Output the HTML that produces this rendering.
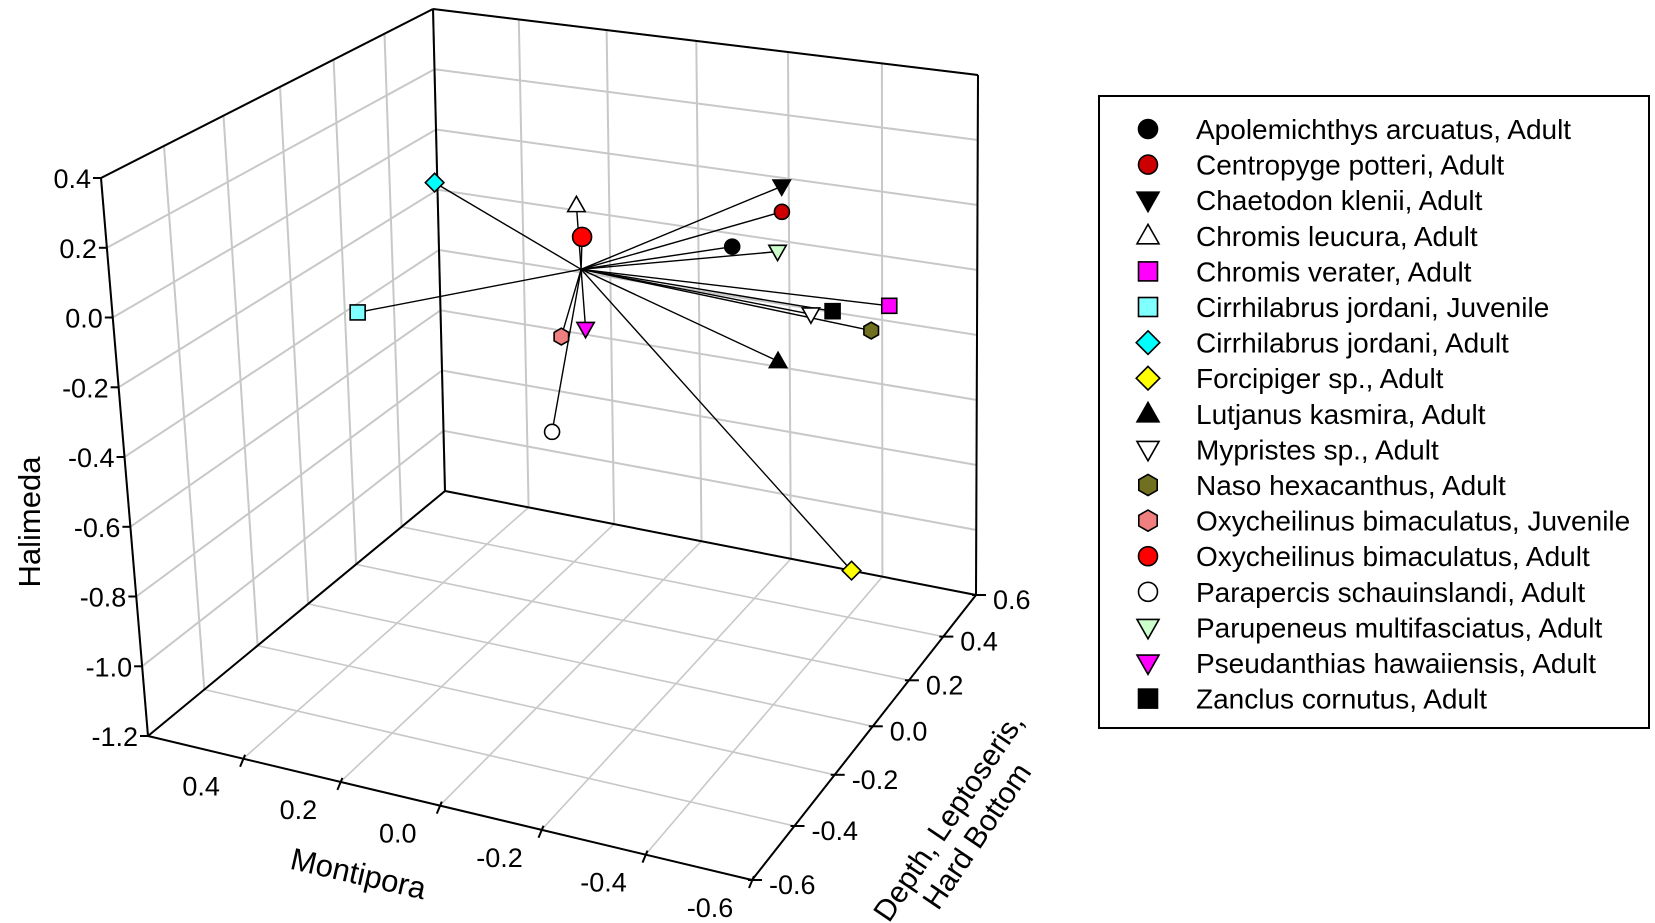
<!DOCTYPE html>
<html><head><meta charset="utf-8">
<style>
html,body{margin:0;padding:0;background:#fff;}
svg{display:block;font-family:"Liberation Sans",Arial,sans-serif;}
</style></head>
<body>
<svg id="chart" width="1655" height="923" viewBox="0 0 1655 923" xmlns="http://www.w3.org/2000/svg">
<g id="grid"></g>
<g id="box"></g>
<g id="axes"></g>
<g id="vectors"></g>
<g id="marks"></g>
<text x="0" y="0" font-size="31" text-anchor="middle" transform="translate(40,522) rotate(-90)">Halimeda</text>
<text x="0" y="0" font-size="31" text-anchor="middle" transform="translate(356,884) rotate(13)">Montipora</text>
<g transform="translate(962,826) rotate(-56)">
<text x="0" y="-6" font-size="30" text-anchor="middle">Depth, Leptoseris,</text>
<text x="0" y="28" font-size="30" text-anchor="middle">Hard Bottom</text>
</g>
<rect x="1099" y="96" width="550" height="632" fill="#fff" stroke="#000" stroke-width="2"/>
<g id="legend"></g>
</svg>
<script>
// ---- data ----
const species = ["Apolemichthys arcuatus, Adult","Centropyge potteri, Adult","Chaetodon klenii, Adult","Chromis leucura, Adult","Chromis verater, Adult","Cirrhilabrus jordani, Juvenile","Cirrhilabrus jordani, Adult","Forcipiger sp., Adult","Lutjanus kasmira, Adult","Mypristes sp., Adult","Naso hexacanthus, Adult","Oxycheilinus bimaculatus, Juvenile","Oxycheilinus bimaculatus, Adult","Parapercis schauinslandi, Adult","Parupeneus multifasciatus, Adult","Pseudanthias hawaiiensis, Adult","Zanclus cornutus, Adult"];
const montipora = [-0.192,-0.251,-0.251,-0.021,-0.452,0.178,0.105,-0.333,-0.245,-0.287,-0.414,-0.002,-0.026,0.016,-0.246,-0.027,-0.313];
const depth     = [0.326,0.438,0.438,-0.006,0.5,-0.483,-0.316,0.6,0.426,0.498,0.5,-0.047,0.004,-0.062,0.426,0.006,0.55];
const halimeda  = [-0.078,-0.014,0.065,0.175,-0.291,0.06,0.365,-1.2,-0.471,-0.354,-0.376,-0.199,0.077,-0.478,-0.132,-0.198,-0.366];
const centroid = [-0.024, 0, -0.018];
const mTicks = [0.4,0.2,0.0,-0.2,-0.4,-0.6];
const dTicks = [-0.6,-0.4,-0.2,0.0,0.2,0.4,0.6];
const hTicks = [0.4,0.2,0.0,-0.2,-0.4,-0.6,-0.8,-1.0,-1.2];
const mGrid = [0.6,0.4,0.2,0,-0.2,-0.4,-0.6];
const dGrid = [-0.6,-0.4,-0.2,0,0.2,0.4,0.6];
const hGrid = [0.4,0.2,0,-0.2,-0.4,-0.6,-0.8,-1.0,-1.2];

// ---- styles (marker shapes per species) ----
const shapes = ["circle","circle","tdown","tup","square","square","diamond","diamond","tup","tdown","hex","hex","circle","circle","tdown","tdown","square"];
const fills  = ["#000","#cc0000","#000","#fff","#ff00ff","#80ffff","#00ffff","#ffff00","#000","#fff","#707020","#f08080","#ff0000","#fff","#ccffcc","#ff00ff","#000"];

// ---- projection (box corners) ----
const C = {LB:[148,736],LT:[101,178],BB:[445,491],BT:[433,9],FB:[752,880],FT:[745,283],RB:[976,595],RT:[978,75]};
const aU=1.07, aV=1.17;
function proj(M,D,H){
  let u=(0.6-M)/1.2, v=(D+0.6)/1.2, w=(H+1.2)/1.6;
  u = u/(aU-(aU-1)*u);
  v = aV*v/(1+(aV-1)*v);
  const b=(p00,p01,p10,p11)=>{
    return [(1-u)*(1-v)*p00[0]+(1-u)*v*p01[0]+u*(1-v)*p10[0]+u*v*p11[0],
            (1-u)*(1-v)*p00[1]+(1-u)*v*p01[1]+u*(1-v)*p10[1]+u*v*p11[1]];
  };
  const bot=b(C.LB,C.BB,C.FB,C.RB), top=b(C.LT,C.BT,C.FT,C.RT);
  return [bot[0]*(1-w)+top[0]*w, bot[1]*(1-w)+top[1]*w];
}
const NS="http://www.w3.org/2000/svg";
function mk(tag,attrs,parent){const e=document.createElementNS(NS,tag);for(const k in attrs)e.setAttribute(k,attrs[k]);parent.appendChild(e);return e;}
function line(p,q,stroke,sw,parent){return mk("line",{x1:p[0].toFixed(1),y1:p[1].toFixed(1),x2:q[0].toFixed(1),y2:q[1].toFixed(1),stroke:stroke,"stroke-width":sw},parent);}

const grid=document.getElementById("grid"), box=document.getElementById("box"), axes=document.getElementById("axes");
const GC="#c8c8c8";
hGrid.forEach(h=>{const el=line(proj(0.6,-0.6,h),proj(0.6,0.6,h),GC,2,grid);

});
dGrid.forEach(d=>{const el=line(proj(0.6,d,-1.2),proj(0.6,d,0.4),GC,2,grid);

});
hGrid.forEach(h=>{const el=line(proj(0.6,0.6,h),proj(-0.6,0.6,h),GC,2,grid);

});
mGrid.forEach(m=>{const el=line(proj(m,0.6,-1.2),proj(m,0.6,0.4),GC,2,grid);

});
mGrid.forEach(m=>{const el=line(proj(m,-0.6,-1.2),proj(m,0.6,-1.2),GC,1.6,grid);

});
dGrid.forEach(d=>{const el=line(proj(0.6,d,-1.2),proj(-0.6,d,-1.2),GC,1.6,grid);

});

const edges=[[[0.6,-0.6,-1.2],[0.6,-0.6,0.4]],[[0.6,-0.6,0.4],[0.6,0.6,0.4]],[[0.6,0.6,0.4],[-0.6,0.6,0.4]],[[-0.6,0.6,0.4],[-0.6,0.6,-1.2]],[[0.6,0.6,0.4],[0.6,0.6,-1.2]],[[0.6,0.6,-1.2],[-0.6,0.6,-1.2]],[[0.6,0.6,-1.2],[0.6,-0.6,-1.2]],[[0.6,-0.6,-1.2],[-0.6,-0.6,-1.2]],[[-0.6,-0.6,-1.2],[-0.6,0.6,-1.2]]];
edges.forEach(e=>{const el=line(proj(...e[0]),proj(...e[1]),"#000",2,box);

});

hTicks.forEach(h=>{const p=proj(0.6,-0.6,h);
const t=line(p,[p[0]-8,p[1]],"#000",2,axes);


const tx=mk("text",{x:(p[0]-10).toFixed(1),y:(p[1]+10).toFixed(1),"font-size":27,"text-anchor":"end"},axes);tx.textContent=h.toFixed(1);

});
mTicks.forEach(m=>{const p=proj(m,-0.6,-1.2);
const t=line([p[0]+2,p[1]-4],[p[0]-3,p[1]+8],"#000",2,axes);


const tx=mk("text",{x:(p[0]-42).toFixed(1),y:(p[1]+37).toFixed(1),"font-size":27,"text-anchor":"middle"},axes);tx.textContent=m.toFixed(1);

});
dTicks.forEach(d=>{const p=proj(-0.6,d,-1.2);
const t=line([p[0]-4,p[1]],[p[0]+10,p[1]],"#000",2,axes);


const tx=mk("text",{x:(p[0]+17).toFixed(1),y:(p[1]+14).toFixed(1),"font-size":27},axes);tx.textContent=d.toFixed(1);

});

function marker(shape,fill,x,y,s,parent){
  const st={fill:fill,stroke:"#000","stroke-width":1.6};
  let el;
  if(shape==="circle") el=mk("circle",Object.assign({cx:x,cy:y,r:s/2},st),parent);
  else if(shape==="square") el=mk("rect",Object.assign({x:x-s/2,y:y-s/2,width:s,height:s},st),parent);
  else if(shape==="diamond") el=mk("polygon",Object.assign({points:`${x},${y-s*0.62} ${x+s*0.62},${y} ${x},${y+s*0.62} ${x-s*0.62},${y}`},st),parent);
  else if(shape==="tup") el=mk("polygon",Object.assign({points:`${x},${y-s*0.6} ${x+s*0.58},${y+s*0.42} ${x-s*0.58},${y+s*0.42}`},st),parent);
  else if(shape==="tdown") el=mk("polygon",Object.assign({points:`${x},${y+s*0.6} ${x+s*0.58},${y-s*0.42} ${x-s*0.58},${y-s*0.42}`},st),parent);
  else { let pts=[];for(let i=0;i<6;i++){const a=Math.PI/6+i*Math.PI/3;pts.push((x+s*0.56*Math.cos(a)).toFixed(1)+","+(y+s*0.56*Math.sin(a)).toFixed(1));}
    el=mk("polygon",Object.assign({points:pts.join(" ")},st),parent);}
  return el;
}

const vec=document.getElementById("vectors"), marks=document.getElementById("marks"), leg=document.getElementById("legend");
const hub=proj(centroid[0],centroid[1],centroid[2]);
species.forEach((s,i)=>{
  const p=proj(montipora[i],depth[i],halimeda[i]);
  const l=line(hub,p,"#000",1.4,vec);
  
  
});
species.forEach((s,i)=>{
  const p=proj(montipora[i],depth[i],halimeda[i]);
  const size=(i===12)?19:15;
  const m=marker(shapes[i],fills[i],p[0],p[1],size,marks);
  
  
  const ty=129+i*35.6;
  const lm=marker(shapes[i],fills[i],1148,ty,19,leg);
  
  
  const t=mk("text",{x:1196,y:(ty+10).toFixed(1),"font-size":28},leg);
  t.textContent=s;
  
  
});
</script>
</body></html>
